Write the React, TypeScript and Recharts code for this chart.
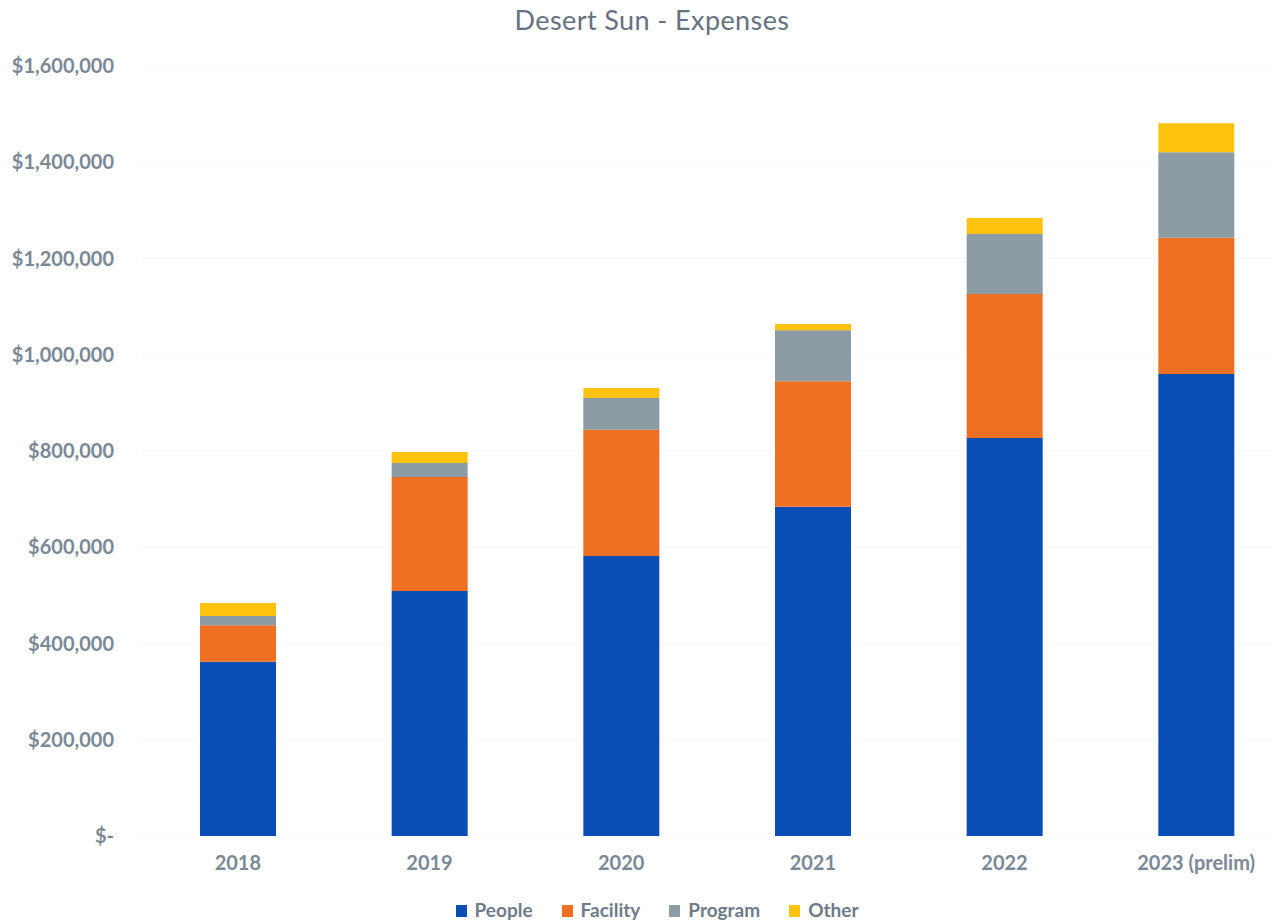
import { BarChart, Bar, XAxis, YAxis, CartesianGrid, Legend } from 'recharts';

const years = ['2018', '2019', '2020', '2021', '2022', '2023 (prelim)'];
const people = [362000, 509000, 582000, 684000, 827000, 960000];
const facility = [76000, 237000, 262000, 261000, 299000, 283000];
const program = [19000, 29000, 66000, 106000, 125000, 178000];
const other = [27000, 23000, 21000, 13000, 33000, 60000];
const yTicks = [0, 200000, 400000, 600000, 800000, 1000000, 1200000, 1400000, 1600000];

const seriesNames = ['People', 'Facility', 'Program', 'Other'];
const seriesColors = ['#0a4db5', '#ef7022', '#8d9ba5', '#ffc20f'];

const chartData = years.map((y, i) => ({
  name: y,
  People: people[i],
  Facility: facility[i],
  Program: program[i],
  Other: other[i],
}));

const axisText = { fill: '#7b8896', fontSize: 20, fontWeight: 700, fontFamily: 'Lato, sans-serif' };

const fmt = (v: number) => (v === 0 ? '$-' : '$' + v.toLocaleString('en-US'));

const renderLegend = () => (
  <div
    style={{
      display: 'flex',
      justifyContent: 'center',
      gap: 29,
      fontFamily: 'Lato, sans-serif',
      fontSize: 19,
      fontWeight: 700,
      color: '#6e7b88',
      paddingTop: 6,
    }}
  >
    {seriesNames.map((n, i) => (
      <span key={n} style={{ display: 'flex', alignItems: 'center' }}>
        <span style={{ display: 'inline-block', width: 11, height: 12, background: seriesColors[i], marginRight: 8, marginTop: 3 }} />
        {n}
      </span>
    ))}
  </div>
);

export default function App() {
  return (
    <div style={{ position: 'fixed', left: 0, top: 0, width: 1273, height: 924, overflow: 'hidden', background: '#fff' }}>
      <div
        style={{
          position: 'absolute',
          top: 3,
          left: 652,
          transform: 'translateX(-50%)',
          fontFamily: 'Lato, sans-serif',
          fontSize: 27,
          color: '#66727f',
          whiteSpace: 'nowrap',
          letterSpacing: 0.4,
        }}
      >
        Desert Sun - Expenses
      </div>
      <BarChart
        width={1300}
        height={924}
        data={chartData}
        margin={{ top: 66, right: 8, bottom: 0, left: 0 }}
        barSize={76}
      >
        <CartesianGrid vertical={false} stroke="#f6f6f6" />
        <XAxis
          dataKey="name"
          axisLine={false}
          tickLine={false}
          tickSize={0}
          tickMargin={20}
          height={56}
          tick={axisText}
        />
        <YAxis
          width={142}
          domain={[0, 1600000]}
          ticks={yTicks}
          tickFormatter={fmt}
          axisLine={false}
          tickLine={false}
          tickSize={0}
          tickMargin={28}
          tick={axisText}
        />
        <Legend verticalAlign="bottom" content={renderLegend} wrapperStyle={{ height: 32, left: 11 }} />
        {seriesNames.map((n, i) => (
          <Bar key={n} dataKey={n} stackId="a" fill={seriesColors[i]} isAnimationActive={false} />
        ))}
      </BarChart>
    </div>
  );
}
